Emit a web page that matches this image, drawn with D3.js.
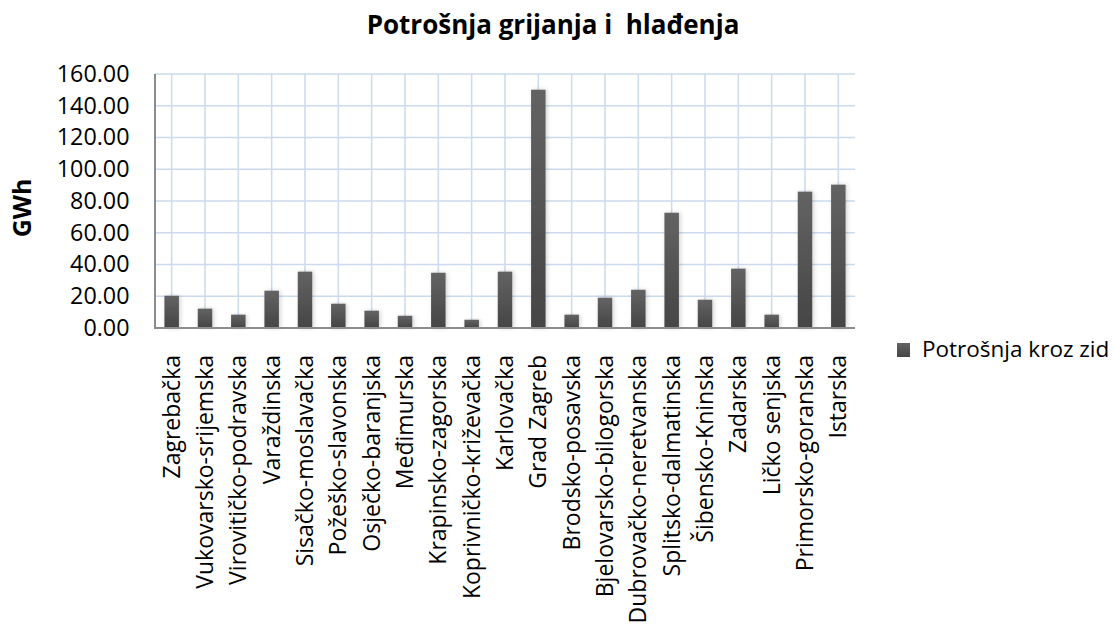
<!DOCTYPE html>
<html>
<head>
<meta charset="utf-8">
<script src="https://cdnjs.cloudflare.com/ajax/libs/d3/7.8.5/d3.min.js"></script>
<style>
  html, body { margin: 0; padding: 0; background: #ffffff; }
  svg { display: block; font-family: "Open Sans", sans-serif; }
</style>
</head>
<body>
<svg id="chart" width="1114" height="624"></svg>
<script>
const categories = [
  "Zagrebačka", "Vukovarsko-srijemska", "Virovitičko-podravska", "Varaždinska",
  "Sisačko-moslavačka", "Požeško-slavonska", "Osječko-baranjska", "Međimurska",
  "Krapinsko-zagorska", "Koprivničko-križevačka", "Karlovačka", "Grad Zagreb",
  "Brodsko-posavska", "Bjelovarsko-bilogorska", "Dubrovačko-neretvanska",
  "Splitsko-dalmatinska", "Šibensko-Kninska", "Zadarska", "Ličko senjska",
  "Primorsko-goranska", "Istarska"
];
const values = [
  20.3, 12.2, 8.4, 23.5, 35.5, 15.3, 10.9, 7.7, 34.8, 5.2, 35.5,
  150.1, 8.4, 19.1, 24.1, 72.6, 17.8, 37.4, 8.4, 85.9, 90.3
];
const yTicks = [0, 20, 40, 60, 80, 100, 120, 140, 160];
const seriesName = "Potrošnja kroz zid";
const title = "Potrošnja grijanja i  hlađenja";
const yTitle = "GWh";

const svg = d3.select("#chart");
const plot = { left: 155, right: 855, top: 74, bottom: 328 };

const x = d3.scaleBand()
  .domain(categories)
  .range([plot.left, plot.right])
  .paddingInner(0.565)
  .paddingOuter(0.2825);

const y = d3.scaleLinear()
  .domain([0, 160])
  .range([plot.bottom, plot.top]);

const defs = svg.append("defs");
const grad = defs.append("linearGradient")
  .attr("id", "barGrad").attr("x1", 0).attr("y1", 0).attr("x2", 0).attr("y2", 1);
grad.append("stop").attr("offset", "0%").attr("stop-color", "#636363");
grad.append("stop").attr("offset", "100%").attr("stop-color", "#454545");
const filt = defs.append("filter").attr("id", "shadow")
  .attr("x", "-50%").attr("y", "-10%").attr("width", "200%").attr("height", "120%");
filt.append("feDropShadow").attr("dx", 1.5).attr("dy", 0).attr("stdDeviation", 2)
  .attr("flood-color", "#000").attr("flood-opacity", 0.18);

// Horizontal gridlines
svg.append("g").selectAll("line").data(yTicks).join("line")
  .attr("x1", plot.left).attr("x2", plot.right)
  .attr("y1", d => y(d)).attr("y2", d => y(d))
  .attr("stroke", "#cbdaee").attr("stroke-width", 1.5);

// Vertical gridlines at category centers
svg.append("g").selectAll("line").data(categories).join("line")
  .attr("x1", d => x(d) + x.bandwidth() / 2).attr("x2", d => x(d) + x.bandwidth() / 2)
  .attr("y1", plot.top).attr("y2", plot.bottom)
  .attr("stroke", "#cbdaee").attr("stroke-width", 1.5);

// Bars
svg.append("g").selectAll("rect").data(values).join("rect")
  .attr("x", (d, i) => x(categories[i]))
  .attr("width", x.bandwidth())
  .attr("y", d => y(d))
  .attr("height", d => y(0) - y(d))
  .attr("fill", "url(#barGrad)")
  .attr("filter", "url(#shadow)");

// Axes lines
svg.append("line")
  .attr("x1", plot.left).attr("x2", plot.right)
  .attr("y1", y(0)).attr("y2", y(0))
  .attr("stroke", "#8c8c8c").attr("stroke-width", 2);
svg.append("line")
  .attr("x1", plot.left).attr("x2", plot.left)
  .attr("y1", plot.top).attr("y2", y(0) + 1)
  .attr("stroke", "#8c8c8c").attr("stroke-width", 2);

// Y axis labels
const yAxis = d3.axisLeft(y).tickValues(yTicks).tickFormat(d3.format(".2f")).tickSize(0).tickPadding(0);
const gy = svg.append("g").attr("transform", `translate(${plot.left - 25.5},0)`).call(yAxis);
gy.select(".domain").remove();
gy.selectAll("text")
  .attr("font-family", "Open Sans, sans-serif")
  .attr("font-size", 23.3)
  .attr("fill", "#000");

// X category labels
const xAxis = d3.axisBottom(x).tickSize(0).tickPadding(0);
const gx = svg.append("g").attr("transform", `translate(0,355)`).call(xAxis);
gx.select(".domain").remove();
gx.selectAll("text")
  .attr("font-family", "Open Sans, sans-serif")
  .attr("font-size", 23)
  .attr("fill", "#000")
  .attr("text-anchor", "end")
  .attr("transform", "rotate(-90)")
  .attr("x", 0)
  .attr("y", 0)
  .attr("dy", "0.35em");

// Title
svg.append("text")
  .attr("x", 553).attr("y", 34)
  .attr("text-anchor", "middle")
  .attr("font-weight", "bold")
  .attr("font-size", 26)
  .style("white-space", "pre")
  .attr("fill", "#000")
  .text(title);

// Y title
svg.append("text")
  .attr("transform", `translate(31,208) rotate(-90)`)
  .attr("text-anchor", "middle")
  .attr("font-weight", "bold")
  .attr("font-size", 25)
  .attr("fill", "#000")
  .text(yTitle);

// Legend
const lg = svg.append("g").attr("transform", "translate(897,343)");
lg.append("rect").attr("width", 13).attr("height", 14).attr("fill", "url(#barGrad)");
lg.append("text").attr("x", 25).attr("y", 14)
  .attr("font-size", 22.5).attr("fill", "#000").text(seriesName);
</script>
</body>
</html>
